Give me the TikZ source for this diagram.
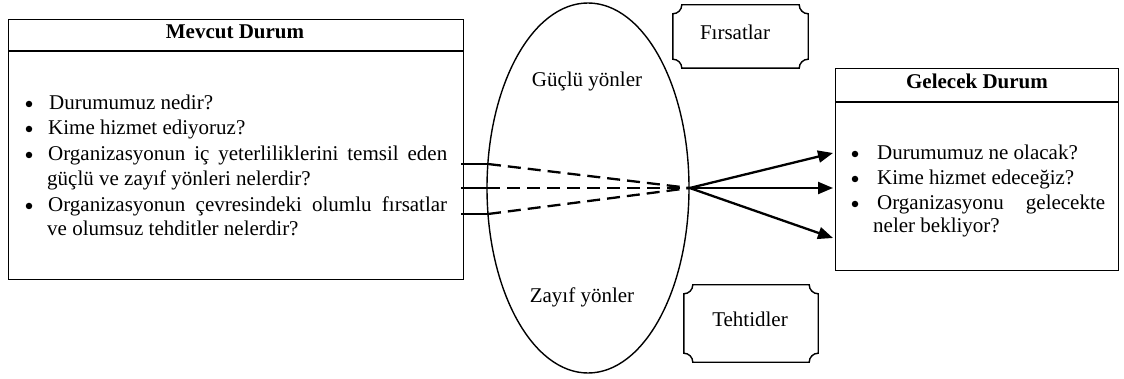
\documentclass[tikz,border=0pt]{standalone}
\usepackage{fontspec}
\setmainfont{Liberation Serif}
\usetikzlibrary{shapes.geometric,arrows.meta,calc}
\newcommand\notchframe[2]{%
  \draw[frame] ($(#1.north west)+(#2,0)$) -- ($(#1.north east)+(-#2,0)$)
    .. controls +(0,0.55*#2) and +(-0.55*#2,0) .. ($(#1.north east)+(0,#2)$)
    -- ($(#1.south east)+(0,-#2)$)
    .. controls +(-0.55*#2,0) and +(0,-0.55*#2) .. ($(#1.south east)+(-#2,0)$)
    -- ($(#1.south west)+(#2,0)$)
    .. controls +(0,-0.55*#2) and +(0.55*#2,0) .. ($(#1.south west)+(0,-#2)$)
    -- ($(#1.north west)+(0,#2)$)
    .. controls +(0.55*#2,0) and +(0,0.55*#2) .. cycle;}
\begin{document}
\begin{tikzpicture}[x=1pt,y=-1pt,
  frame/.style={draw=black,line width=1.4pt},
  panel/.style={draw=black,line width=1.4pt,inner sep=0pt,anchor=north west},
  txt/.style={inner sep=0pt,anchor=base west,font=\fontsize{21}{25}\selectfont},
  ctxt/.style={inner sep=0pt,anchor=base,font=\fontsize{21}{25}\selectfont},
  hdr/.style={inner sep=0pt,anchor=base,font=\fontsize{21}{25}\selectfont\bfseries},
  bul/.style={circle,fill=black,inner sep=0pt,minimum size=6.5pt},
  link/.style={line width=2.3pt},
  dlink/.style={line width=2.3pt,dash pattern=on 13pt off 7pt},
  arr/.style={line width=2.3pt,-{Triangle[length=15pt,width=12pt]}}]
\useasboundingbox (0,0) rectangle (1124,379);

% Mevcut Durum box
\node[panel,minimum width=455pt,minimum height=260pt] (mevcut) at (8,19) {};
\coordinate (mh) at (8,51);
\draw[frame] (mh) -- (mh -| mevcut.east);
\node[hdr] (mevcutT) at (235,39) {Mevcut Durum};
\node[bul] (mb1) at (29,104) {};
\node[txt] (m1) at (49,110) {Durumumuz nedir?};
\node[bul] (mb2) at (29,129) {};
\node[txt] (m2) at (48,135) {Kime hizmet ediyoruz?};
\node[bul] (mb3) at (29,155) {};
\node[txt] (m3) at (48,161) {\makebox[399pt][s]{Organizasyonun iç yeterliliklerini temsil eden}};
\node[txt] (m4) at (47,186) {güçlü ve zayıf yönleri nelerdir?};
\node[bul] (mb5) at (29,206) {};
\node[txt] (m5) at (48,212) {\makebox[399pt][s]{Organizasyonun çevresindeki olumlu fırsatlar}};
\node[txt] (m6) at (47,236) {ve olumsuz tehditler nelerdir?};

% Ellipse
\node[draw=black,line width=1.4pt,ellipse,minimum width=202pt,minimum height=370pt,inner sep=0pt] (swot) at (588,188) {};
\node[ctxt] (guclu) at (587,87) {Güçlü yönler};
\node[ctxt] (zayif) at (582,302) {Zayıf yönler};

% Fırsatlar / Tehtidler
\node[inner sep=0pt,minimum width=135pt,minimum height=63pt] (firsat) at (740.5,36.5) {};
\notchframe{firsat}{9}
\node[ctxt] (firsatT) at (735,40) {Fırsatlar};
\node[inner sep=0pt,minimum width=134pt,minimum height=77pt] (tehdit) at (751,323.5) {};
\notchframe{tehdit}{9}
\node[ctxt] (tehditT) at (750,326) {Tehtidler};

% Gelecek Durum box
\node[panel,minimum width=283pt,minimum height=202pt] (gelecek) at (835,68) {};
\coordinate (gh) at (835,102);
\draw[frame] (gh) -- (gh -| gelecek.east);
\node[hdr] (gelecekT) at (977,89) {Gelecek Durum};
\node[bul] (gb1) at (855,154) {};
\node[txt] (g1) at (877,160) {Durumumuz ne olacak?};
\node[bul] (gb2) at (855,179) {};
\node[txt] (g2) at (877,185) {Kime hizmet edeceğiz?};
\node[bul] (gb3) at (855,204) {};
\node[txt] (g3) at (877,210) {\makebox[228pt][s]{Organizasyonu gelecekte}};
\node[txt] (g4) at (873,233) {neler bekliyor?};

% connectors
\coordinate (l1) at (461,164);
\coordinate (l2) at (461,188);
\coordinate (l3) at (461,214);
\coordinate (e1) at (488,164);
\coordinate (e2) at (487,188);
\coordinate (e3) at (488,214);
\draw[link] (l1) -- (e1);
\draw[link] (l2) -- (e2);
\draw[link] (l3) -- (e3);
\draw[dlink] (e1) -- (swot.east);
\draw[dlink] (e2) -- (swot.east);
\draw[dlink] (e3) -- (swot.east);
\coordinate (t1) at (833,153);
\coordinate (t2) at (833,188);
\coordinate (t3) at (833,238);
\draw[arr] (swot.east) -- (t1);
\draw[arr] (swot.east) -- (t2);
\draw[arr] (swot.east) -- (t3);
\end{tikzpicture}
\end{document}
